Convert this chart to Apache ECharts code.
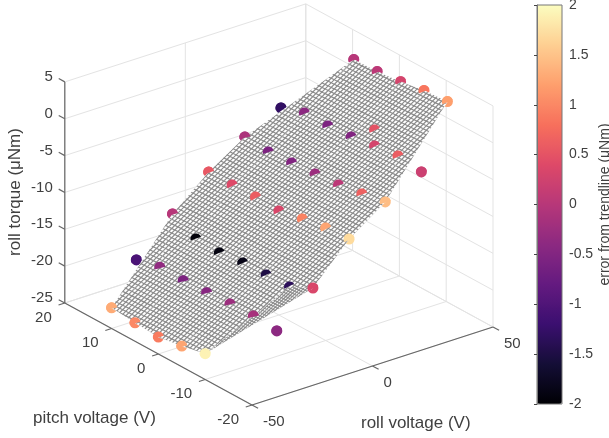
<!DOCTYPE html>
<html><head><meta charset="utf-8">
<style>html,body{margin:0;padding:0;background:#fff}#c{width:609px;height:438px}</style>
<script src="https://cdn.jsdelivr.net/npm/echarts@6/dist/echarts.min.js"></script>
</head><body><div id="c"></div>
<script>
// ---- values ----
const rollVolts = [-50, -30, -15, 0, 15, 30, 50.5];
const pitchShort = [10, 5, 0, -5, -10];
const pitchLong = [15, 10, 5, 0, -5, -10, -15];
const colPitch = [pitchShort, pitchLong, pitchLong, pitchLong, pitchLong, pitchLong, pitchShort];
const torqueM50 = [-22.2, -22.5, -22.7, -22.2, -21.5];
const torqueM30 = [-19.55, -18.8, -18.9, -18.8, -18.6, -18.5, -18.8];
const torqueM15 = [-14.9, -16.56, -16.73, -16.36, -16.26, -16.15, -14.56];
const torqueP0 = [-10.8, -10.82, -10.72, -10.89, -10.24, -9.74, -9.5];
const torqueP15 = [-7.63, -7.93, -7.69, -7.46, -7.22, -6.71, -6.06];
const torqueP30 = [-5.28, -4.23, -4.26, -4.02, -3.51, -3.14, -3.58];
const torqueP50 = [0.85, 0.95, 1.32, 1.83, 2.07];
const errorM50 = [1.3, 1.0, 0.9, 1.25, 1.9];
const errorM30 = [-1.05, -0.35, -0.55, -0.45, -0.25, -0.15, -0.4];
const errorM15 = [0, -1.95, -1.9, -1.85, -1.5, -1.35, 0.35];
const errorP0 = [0.55, 0.4, 0.6, 0.35, 0.95, 1.25, 1.7];
const errorP15 = [-0.1, -0.55, -0.5, -0.25, 0.05, 0.65, 1.45];
const errorP30 = [-1.3, -0.4, -0.55, -0.5, 0.3, 0.6, 0.2];
const errorP50 = [0, 0.05, 0.3, 0.85, 1.2];
const extraRoll = [30], extraPitch = [-5], extraTorque = [-1.34], extraError = [0.5];
const rollTicks = [-50, 0, 50];
const pitchTicks = [-20, -10, 0, 10, 20];
const torqueTicks = [-25, -20, -15, -10, -5, 0, 5];
const magma = ['#000004','#140e36','#3b0f70','#641a80','#8c2981','#b73779','#de4968','#f7705c','#fe9f6d','#fecf92','#fcfdbf'];

const torque = [torqueM50, torqueM30, torqueM15, torqueP0, torqueP15, torqueP30, torqueP50];
const errors = [errorM50, errorM30, errorM15, errorP0, errorP15, errorP30, errorP50];

// ---- the view: an orthographic camera given by what one unit of each axis covers on screen ----
const ROLL = {x: 2.41, y: -0.78, d: -1.69}, PITCH = {x: -4.68, y: -2.55, d: -5.51}, TQ = {y: -7.37, d: 3.41};
const ORIGIN = {x: 252, y: 405};                       // roll -50, pitch -20, torque -25
const rMin = -50, rMax = 50, pMin = -20, pMax = 20, zMin = -25, zMax = 5;
function project(r, p, z) {
  return [ORIGIN.x + ROLL.x * (r - rMin) + PITCH.x * (p - pMin),
          ORIGIN.y + ROLL.y * (r - rMin) + PITCH.y * (p - pMin) + TQ.y * (z - zMin)];
}

// ---- box, grid and axes ----
const gridSegs = [], axisSegs = [];
function seg(list, a, b) { const A = project(...a), B = project(...b); list.push([A[0], A[1], B[0], B[1]]); }
rollTicks.forEach(r => { seg(gridSegs, [r, pMin, zMin], [r, pMax, zMin]); seg(gridSegs, [r, pMax, zMin], [r, pMax, zMax]); });
pitchTicks.forEach(p => { seg(gridSegs, [rMin, p, zMin], [rMax, p, zMin]); seg(gridSegs, [rMax, p, zMin], [rMax, p, zMax]); });
torqueTicks.forEach(z => { seg(gridSegs, [rMin, pMax, z], [rMax, pMax, z]); seg(gridSegs, [rMax, pMin, z], [rMax, pMax, z]); });
seg(axisSegs, [rMin, pMin, zMin], [rMax, pMin, zMin]);
seg(axisSegs, [rMin, pMin, zMin], [rMin, pMax, zMin]);
seg(axisSegs, [rMin, pMax, zMin], [rMin, pMax, zMax]);
rollTicks.forEach(r => seg(axisSegs, [r, pMin, zMin], [r, pMin - 1.3, zMin]));
pitchTicks.forEach(p => seg(axisSegs, [rMin, p, zMin], [rMin - 2.6, p, zMin]));
torqueTicks.forEach(z => seg(axisSegs, [rMin, pMax, z], [rMin, pMax + 1.3, z]));

// ---- tick labels ----
const labelRows = [], labelTexts = [], labelAligns = [];
function lab(pt, dx, dy, text, align) { labelRows.push([pt[0] + dx, pt[1] + dy]); labelTexts.push(text); labelAligns.push(align); }
torqueTicks.forEach(z => lab(project(rMin, pMax, z), -12, -5, String(z), 'right'));
pitchTicks.forEach(p => lab(project(rMin, p, zMin), -13, 14.5, String(p), 'right'));
rollTicks.forEach(r => lab(project(r, pMin, zMin), 11, 17, String(r), 'left'));

// ---- surface: strips between the roll columns; the two outer knots of the 2nd and 6th columns lie off the surface ----
function knot(c, p) { const i = colPitch[c].indexOf(p); return [rollVolts[c], p, torque[c][i]]; }
const cells = [];
function cell(...pts) { cells.push(pts); }
for (let c = 0; c < 6; c++) {
  const lim = (c === 2 || c === 3) ? 15 : 10;
  for (let p = -lim; p < lim; p += 5) cell(knot(c, p), knot(c + 1, p), knot(c + 1, p + 5), knot(c, p + 5));
}
[1, -1].forEach(s => {
  cell(knot(0, 10 * s), knot(1, 10 * s), knot(2, 15 * s));
  cell(knot(1, 10 * s), knot(2, 10 * s), knot(2, 15 * s));
  cell(knot(4, 15 * s), knot(4, 10 * s), knot(5, 10 * s));
  cell(knot(4, 15 * s), knot(5, 10 * s), knot(6, 10 * s));
});
const cellRows = cells.map(pts => {
  const flat = [];
  pts.forEach(k => flat.push(...project(...k)));
  let area = 0, data = 0, n = pts.length;
  for (let i = 0; i < n; i++) {
    const a = project(...pts[i]), b = project(...pts[(i + 1) % n]);
    area += a[0] * b[1] - b[0] * a[1];
    data += pts[i][0] * pts[(i + 1) % n][1] - pts[(i + 1) % n][0] * pts[i][1];
  }
  return {flat, density: Math.abs(area / data)};
});

// the surface's fine wire weave, as a repeating fill
function makeTile(size, step, w, color) {
  const cv = document.createElement('canvas'); cv.width = size; cv.height = size;
  const g = cv.getContext('2d'); g.fillStyle = '#fff'; g.fillRect(0, 0, size, size);
  g.strokeStyle = color; g.lineWidth = w;
  const n = Math.ceil(3 * size / step);
  for (let k = -n; k <= n; k++) {
    g.beginPath(); g.moveTo(-size, -size * 0.5 + k * step); g.lineTo(2 * size, size + k * step); g.stroke();
    g.beginPath(); g.moveTo(-size, k * step + size); g.lineTo(2 * size, k * step - 2 * size); g.stroke();
  }
  return cv;
}
const tileCoarse = makeTile(46, 4.6, 1.2, '#8a8a8a');
const tileFine = makeTile(32, 3.2, 1.1, '#8a8a8a');

// ---- scatter markers, cut along the line where the surface passes through their disc ----
const markerRows = [], cuts = [];
function cutInfo(c, p) {
  const here = colPitch[c].indexOf(p), z = torque[c][here];
  const nb = (cc, pp) => { if (cc < 0 || cc > 6) return null; const i = colPitch[cc].indexOf(pp); return i < 0 ? null : torque[cc][i]; };
  const zl = nb(c - 1, p), zr = nb(c + 1, p), zu = nb(c, p + 5), zd = nb(c, p - 5);
  const sL0 = zl === null ? null : (z - zl) / (rollVolts[c] - rollVolts[c - 1]);
  const sR0 = zr === null ? null : (zr - z) / (rollVolts[c + 1] - rollVolts[c]);
  const tD0 = zd === null ? null : (z - zd) / 5, tU0 = zu === null ? null : (zu - z) / 5;
  const sL = sL0 ?? sR0 ?? 0, sR = sR0 ?? sL0 ?? 0, tD = tD0 ?? tU0 ?? 0, tU = tU0 ?? tD0 ?? 0;
  const s = 0.3 * (sL + sR), t = 0.3 * (tD + tU);
  // plane through the marker: which screen direction runs away from the viewer
  const ax = ROLL.x, ay = ROLL.y + TQ.y * s, ad = ROLL.d + TQ.d * s;
  const bx = PITCH.x, by = PITCH.y + TQ.y * t, bd = PITCH.d + TQ.d * t;
  const det = ax * by - bx * ay;
  const cx = (ad * by - bd * ay) / det, cy = (ax * bd - bx * ad) / det;
  const len = Math.hypot(cx, cy);
  // a valley hides more of the disc, a ridge less
  const off = Math.max(-3, Math.min(2, 3 * (sR - sL) + (tU - tD) - 0.8));
  return {vx: -cx / len, vy: -cy / len, off};
}
rollVolts.forEach((r, c) => colPitch[c].forEach((p, j) => {
  const pt = project(r, p, torque[c][j]);
  cuts.push(cutInfo(c, p));
  markerRows.push([pt[0], pt[1], errors[c][j]]);
}));
extraRoll.forEach((r, i) => {
  const pt = project(r, extraPitch[i], extraTorque[i]);
  cuts.push(cutInfo(5, extraPitch[i]));
  markerRows.push([pt[0], pt[1], extraError[i]]);
});
const MARKER_R = 5.5;

const TXT = '#404040', FONT = '"Liberation Sans", Arial, sans-serif';
function segmentSeries(rows, color, width, z) {
  return {type: 'custom', coordinateSystem: 'cartesian2d', silent: true, z, data: rows, clip: false,
    renderItem: (_, api) => {
      const a = api.coord([api.value(0), api.value(1)]), b = api.coord([api.value(2), api.value(3)]);
      return {type: 'line', shape: {x1: a[0], y1: a[1], x2: b[0], y2: b[1]}, style: {stroke: color, lineWidth: width}};
    }};
}
const series = [
  segmentSeries(gridSegs, '#e3e3e3', 1, 1),
  segmentSeries(axisSegs, '#666', 1.2, 2),
  {type: 'custom', coordinateSystem: 'cartesian2d', silent: true, z: 3, data: labelRows, clip: false,
    renderItem: (params, api) => {
      const a = api.coord([api.value(0), api.value(1)]);
      return {type: 'text', style: {text: labelTexts[params.dataIndex], x: a[0], y: a[1], align: labelAligns[params.dataIndex],
        verticalAlign: 'middle', font: '15px ' + FONT, fill: TXT}};
    }},
  {type: 'custom', coordinateSystem: 'cartesian2d', silent: true, z: 4, data: markerRows, encode: {x: 0, y: 1}, clip: false,
    renderItem: (_, api) => {
      const a = api.coord([api.value(0), api.value(1)]);
      return {type: 'circle', shape: {cx: a[0], cy: a[1], r: MARKER_R}, style: {fill: api.visual('color')}};
    }},
  {type: 'custom', coordinateSystem: 'cartesian2d', silent: true, z: 5, data: cellRows.map((c, i) => [i]), clip: false,
    renderItem: (params, api) => {
      const c = cellRows[params.dataIndex], pts = [];
      for (let i = 0; i < c.flat.length; i += 2) pts.push(api.coord([c.flat[i], c.flat[i + 1]]));
      return {type: 'polygon', shape: {points: pts}, style: {fill: '#fff', stroke: '#fff', lineWidth: 0.5}};
    }},
  {type: 'custom', coordinateSystem: 'cartesian2d', silent: true, z: 6, data: cellRows.map((c, i) => [i]), clip: false,
    renderItem: (params, api) => {
      const c = cellRows[params.dataIndex], pts = [];
      for (let i = 0; i < c.flat.length; i += 2) pts.push(api.coord([c.flat[i], c.flat[i + 1]]));
      return {type: 'polygon', shape: {points: pts},
        style: {fill: {image: c.density < 12 ? tileFine : tileCoarse, repeat: 'repeat'}}};
    }},
  {type: 'custom', coordinateSystem: 'cartesian2d', silent: true, z: 7, data: markerRows, encode: {x: 0, y: 1}, clip: false,
    renderItem: (params, api) => {
      const a = api.coord([api.value(0), api.value(1)]), g = cuts[params.dataIndex], pts = [];
      for (let i = 0; i < 72; i++) {
        const th = i / 72 * 2 * Math.PI, dx = Math.cos(th) * MARKER_R, dy = Math.sin(th) * MARKER_R;
        if (g.vx * dx + g.vy * dy > g.off) pts.push([th, a[0] + dx, a[1] + dy]);
      }
      // keep the arc in one run round the circle
      const base = Math.atan2(g.vy, g.vx);
      pts.sort((p, q) => ((p[0] - base + 3 * Math.PI) % (2 * Math.PI)) - ((q[0] - base + 3 * Math.PI) % (2 * Math.PI)));
      return {type: 'polygon', shape: {points: pts.map(p => [p[1], p[2]])}, style: {fill: api.visual('color')}};
    }}
];

const chart = echarts.init(document.getElementById('c'), null, {renderer: 'canvas'});
chart.setOption({
  animation: false,
  backgroundColor: '#fff',
  grid: [
    {left: 0, top: 0, width: 609, height: 438, show: false, outerBoundsMode: 'none'},
    {left: 537, top: 5, width: 25, height: 399, show: true, borderColor: '#777', borderWidth: 1, backgroundColor: 'transparent', z: 20, outerBoundsMode: 'none'}
  ],
  xAxis: [
    {gridIndex: 0, type: 'value', min: 0, max: 609, show: false},
    {gridIndex: 1, type: 'value', min: 0, max: 1, show: false}
  ],
  yAxis: [
    {gridIndex: 0, type: 'value', min: 0, max: 438, inverse: true, show: false},
    {gridIndex: 1, type: 'value', min: -2, max: 2, interval: 0.5, position: 'right', z: 20,
      splitLine: {show: false},
      axisLine: {show: true, lineStyle: {color: '#777'}},
      axisTick: {show: true, inside: true, length: 3, lineStyle: {color: '#444'}},
      axisLabel: {color: TXT, fontSize: 14, fontFamily: FONT, margin: 7, showMinLabel: true, showMaxLabel: true, hideOverlap: false},
      name: 'error from trendline (μNm)', nameLocation: 'middle', nameRotate: 90, nameGap: 36,
      nameTextStyle: {color: TXT, fontSize: 14, fontFamily: FONT}}
  ],
  visualMap: {type: 'continuous', min: -2, max: 2, dimension: 2, seriesIndex: [3, 6], calculable: false, realtime: false,
    left: 537, top: 5, itemWidth: 25, itemHeight: 399, text: null, showLabel: false, padding: 0,
    inRange: {color: magma}},
  graphic: [
    {type: 'text', left: 33, top: 410, style: {text: 'pitch voltage (V)', font: '17px ' + FONT, fill: TXT}},
    {type: 'text', left: 361, top: 415, style: {text: 'roll voltage (V)', font: '17px ' + FONT, fill: TXT}},
    {type: 'text', x: 15, y: 192, rotation: Math.PI / 2, style: {text: 'roll torque (μNm)', font: '17px ' + FONT, fill: TXT, align: 'center', verticalAlign: 'middle'}}
  ],
  series
});
</script></body></html>
